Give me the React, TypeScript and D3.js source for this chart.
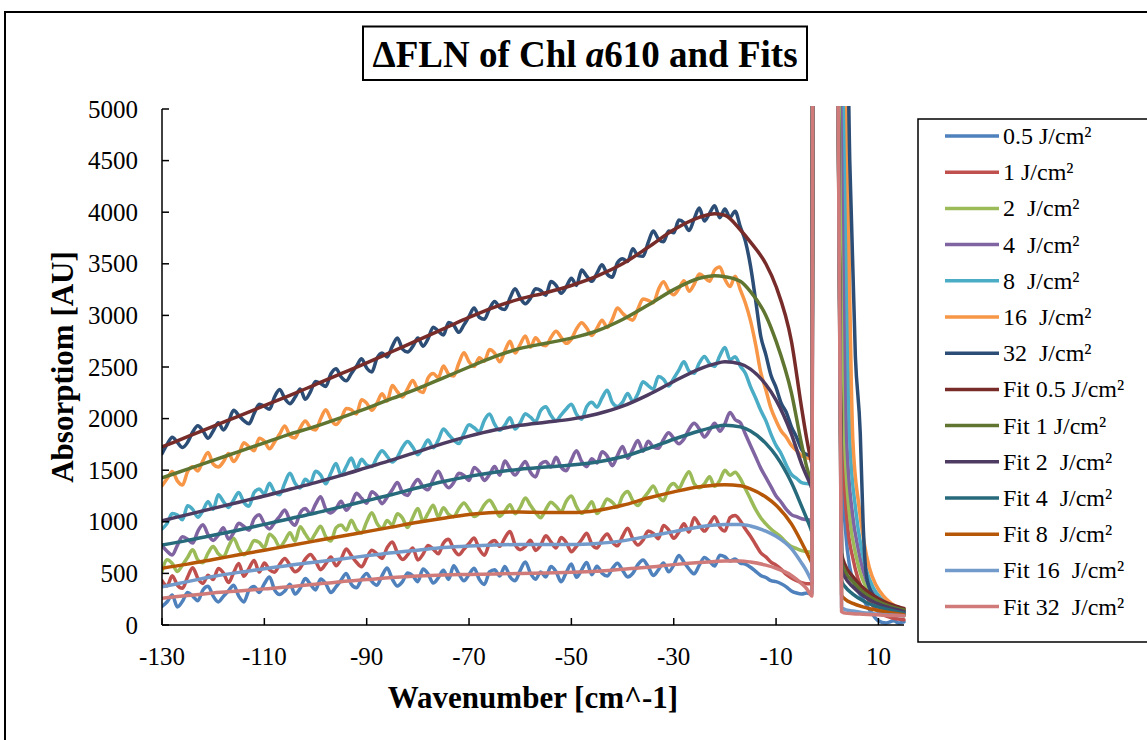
import React from 'react';
import * as d3 from 'd3';

// ---------- axis ticks ----------
const X_TICKS = [-130, -110, -90, -70, -50, -30, -10, 10];
const Y_TICKS = [0, 500, 1000, 1500, 2000, 2500, 3000, 3500, 4000, 4500, 5000];

// ---------- measured spectra: body sampled every 1 cm^-1 from -130 to -4 ----------
const BODY_START = -130;

const DATA_05 = [
  180,225,290,175,230,315,280,235,340,375,
  280,224,278,332,386,280,224,338,372,316,
  400,465,340,295,330,395,300,355,450,395,
  340,445,400,315,370,435,500,395,360,445,
  500,423,386,479,552,445,378,421,504,477,
  420,542,494,406,458,530,442,574,496,428,
  490,551,442,393,514,535,476,567,468,429,
  530,611,502,443,514,465,566,517,418,509,
  590,462,534,606,488,570,502,474,546,598,
  530,465,500,585,630,565,480,535,600,515,
  580,674,608,542,496,580,654,618,572,676,
  660,620,640,600,590,560,520,480,460,430,
  420,400,370,330,310,300,310,
];
const DATA_1 = [
  430,379,478,387,356,465,554,453,402,481,
  440,547,504,411,508,595,472,549,626,513,
  600,536,512,588,644,580,516,552,638,684,
  620,536,592,658,574,640,736,672,608,564,
  650,725,690,645,750,805,700,635,680,745,
  630,685,770,735,690,795,830,735,680,735,
  790,842,734,676,788,820,762,844,906,778,
  730,761,822,723,774,865,806,747,848,799,
  710,763,826,889,782,745,828,881,804,767,
  860,938,836,774,822,910,888,836,964,922,
  840,900,980,900,1040,970,910,980,1050,950,
  910,1040,1060,1010,930,860,780,700,660,610,
  580,540,490,455,430,410,400,
];
const DATA_2 = [
  520,633,596,519,582,655,728,631,604,697,
  760,690,660,760,840,740,680,730,820,800,
  750,879,838,757,816,895,814,953,882,821,
  890,958,856,814,942,970,918,1016,924,892,
  1000,1088,986,934,1012,970,1078,1036,944,1042,
  1130,1007,1084,1161,1048,1135,1072,1049,1126,1183,
  1120,1052,1084,1166,1208,1140,1052,1104,1166,1078,
  1140,1230,1160,1090,1040,1120,1190,1150,1100,1200,
  1250,1146,1082,1128,1194,1080,1136,1222,1188,1144,
  1250,1293,1206,1159,1222,1285,1348,1251,1204,1327,
  1370,1322,1414,1486,1368,1330,1368,1436,1344,1402,
  1500,1450,1480,1420,1320,1220,1120,1040,980,930,
  890,850,800,760,740,720,710,
];
const DATA_4 = [
  770,714,678,772,856,830,794,908,972,876,
  820,871,942,833,894,985,956,917,1028,1069,
  980,931,992,1053,1114,1015,966,1087,1128,1079,
  1170,1242,1124,1086,1128,1200,1112,1174,1276,1228,
  1180,1292,1254,1176,1238,1310,1382,1284,1256,1348,
  1410,1340,1310,1410,1490,1390,1330,1380,1470,1450,
  1400,1527,1484,1401,1458,1535,1452,1589,1516,1453,
  1520,1585,1480,1435,1560,1585,1530,1625,1530,1495,
  1600,1688,1586,1534,1612,1570,1678,1636,1544,1642,
  1730,1616,1702,1788,1684,1780,1726,1712,1798,1864,
  1810,1756,1802,1898,1954,1900,1822,1884,1956,1878,
  1950,2060,1990,1960,1850,1740,1630,1520,1430,1340,
  1250,1190,1120,1070,1050,1030,1020,
];
const DATA_8 = [
  930,985,1080,1065,1020,1155,1120,1045,1110,1195,
  1120,1263,1196,1139,1212,1285,1188,1151,1284,1317,
  1270,1374,1288,1262,1376,1470,1374,1328,1412,1376,
  1490,1454,1368,1472,1566,1450,1534,1618,1512,1606,
  1550,1536,1622,1688,1634,1580,1626,1722,1778,1724,
  1650,1716,1792,1718,1794,1900,1846,1792,1758,1854,
  1940,1911,1872,1983,2044,1945,1886,1937,2008,1899,
  1960,2047,2014,1971,2078,2115,2032,1979,2036,2093,
  2140,2042,1994,2116,2158,2110,2202,2274,2156,2118,
  2160,2244,2168,2242,2356,2320,2284,2408,2382,2316,
  2390,2470,2550,2460,2440,2540,2602,2534,2506,2608,
  2690,2570,2600,2510,2440,2310,2200,2080,1980,1850,
  1740,1660,1550,1460,1420,1380,1370,
];
const DATA_16 = [
  1350,1419,1488,1397,1356,1485,1534,1493,1592,1671,
  1560,1531,1582,1663,1584,1655,1766,1727,1688,1809,
  1780,1707,1774,1851,1928,1835,1812,1909,1976,1913,
  1890,1998,2086,1994,1942,2000,2098,2086,2044,2182,
  2150,2080,2150,2240,2170,2320,2260,2210,2290,2370,
  2280,2252,2394,2436,2398,2510,2432,2414,2536,2638,
  2550,2505,2590,2555,2670,2635,2550,2655,2750,2635,
  2720,2801,2692,2783,2724,2705,2786,2847,2788,2729,
  2770,2869,2928,2877,2806,2875,2954,2883,2962,3071,
  3020,2977,2954,3061,3158,3145,3122,3249,3326,3243,
  3200,3258,3336,3234,3302,3400,3370,3330,3440,3470,
  3350,3280,3380,3250,3120,2950,2720,2450,2280,2100,
  1980,1880,1820,1740,1690,1640,1620,
];
const DATA_32 = [
  1660,1750,1820,1770,1720,1770,1870,1930,1880,1810,
  1880,1960,1890,1970,2080,2030,1980,1950,2050,2140,
  2120,2091,2212,2283,2194,2145,2206,2287,2188,2259,
  2360,2341,2312,2433,2484,2405,2366,2437,2508,2579,
  2490,2452,2584,2636,2598,2700,2782,2674,2646,2698,
  2780,2702,2774,2886,2848,2810,2932,2904,2836,2908,
  2990,3071,2982,2963,3064,3135,3076,3057,3168,3259,
  3170,3113,3166,3259,3242,3195,3328,3291,3214,3277,
  3360,3290,3440,3380,3330,3410,3490,3400,3370,3510,
  3550,3523,3646,3579,3572,3705,3818,3741,3714,3817,
  3800,3924,3898,3822,3936,4040,3914,3988,4062,3946,
  4030,3950,4010,3860,3720,3480,3150,2800,2620,2420,
  2300,2150,2060,1920,1820,1700,1650,
];

// laser line region and anti-Stokes tail of the measured spectra: [wavenumber, value]
const TAIL_05: [number, number][] = [[-3.0,300],[-2.8,6000],[2.1,6000],[2.7,1800],[3.6,900],[4.4,560],[5.5,380],[7,250],[8.5,130],[10,40],[11.5,20],[13,40],[14,20],[15,30]];
const TAIL_1: [number, number][] = [[-3.0,400],[-2.8,6000],[2.2,6000],[3.0,1800],[4.0,950],[5.0,650],[6.0,450],[7.5,290],[9,180],[10.5,110],[12,80],[13.5,60],[15,50]];
const TAIL_2: [number, number][] = [[-3.0,705],[-2.8,6000],[2.4,6000],[3.4,1800],[4.5,1000],[5.5,700],[6.5,500],[8,330],[9.5,220],[11,160],[12.5,120],[15,90]];
const TAIL_4: [number, number][] = [[-3.0,1015],[-2.8,6000],[2.6,6000],[3.8,1800],[5.0,1050],[6.0,750],[7.0,530],[8.5,340],[10,240],[11.5,180],[13,140],[15,110]];
const TAIL_8: [number, number][] = [[-3.0,1365],[-2.8,6000],[2.8,6000],[4.4,1800],[5.6,1100],[6.6,760],[7.6,540],[9,360],[10.5,260],[12,200],[13.5,160],[15,130]];
const TAIL_16: [number, number][] = [[-3.0,1610],[-2.8,6000],[3.2,6000],[5.0,1800],[6.2,1150],[7.2,800],[8.2,560],[9.5,390],[11,280],[12.5,210],[15,150]];
const TAIL_32: [number, number][] = [[-3.0,1640],[-2.8,6000],[3.8,6000],[4.4,4500],[5.5,2600],[6.45,1860],[7.0,1000],[7.6,500],[8.5,330],[10,240],[11.5,190],[13,160],[15,140]];

// ---------- fits ----------
const FIT_X = [-130,-125,-120,-115,-110,-105,-100,-95,-90,-85,-80,-75,-70,-65,-60,-55,-50,-45,-40,-35,-30,-25,-22,-20,-17,-15,-12,-10,-7,-5,-4,-3.2];
const FIT_05 = [1725,1825,1925,2025,2125,2225,2330,2435,2540,2650,2760,2870,2980,3080,3160,3220,3290,3380,3500,3660,3830,3950,3985,3970,3830,3710,3500,3280,2750,2100,1800,1600];
const FIT_1 = [1425,1510,1595,1680,1765,1850,1925,2010,2100,2195,2290,2395,2500,2600,2680,2730,2780,2850,2960,3100,3250,3360,3385,3375,3330,3230,3000,2750,2250,1750,1530,1400];
const FIT_2 = [1010,1070,1130,1190,1250,1315,1380,1450,1525,1600,1680,1760,1830,1890,1935,1965,1995,2045,2120,2230,2360,2480,2530,2550,2530,2480,2330,2180,1850,1560,1440,1350];
const FIT_4 = [775,820,870,920,975,1030,1085,1145,1205,1265,1330,1390,1440,1480,1510,1530,1550,1580,1630,1710,1800,1880,1920,1935,1920,1880,1760,1640,1380,1150,1030,930];
const FIT_8 = [550,590,635,680,725,770,815,860,905,950,995,1035,1070,1090,1095,1090,1090,1110,1160,1230,1290,1340,1355,1360,1350,1320,1240,1160,980,800,700,620];
const FIT_16 = [370,420,470,510,545,580,610,640,670,700,725,750,765,775,780,780,780,790,815,860,905,950,970,975,975,960,910,860,740,600,520,440];
const FIT_32 = [260,285,310,330,350,370,395,420,440,460,475,485,490,495,500,505,510,520,540,560,585,605,615,620,620,610,580,550,480,400,350,290];

const FIT_TAIL_05: [number, number][] = [[-3.0,1560],[-2.8,6000],[2.0,6000],[2.8,700],[3.5,580],[5,470],[7,360],[9,285],[11,230],[13,190],[15,160]];
const FIT_TAIL_1: [number, number][] = [[-3.0,1370],[-2.8,6000],[2.0,6000],[2.8,620],[3.5,520],[5,420],[7,320],[9,255],[11,205],[13,170],[15,145]];
const FIT_TAIL_2: [number, number][] = [[-3.0,1320],[-2.8,6000],[2.0,6000],[2.8,540],[3.5,460],[5,370],[7,285],[9,225],[11,185],[13,155],[15,130]];
const FIT_TAIL_4: [number, number][] = [[-3.0,900],[-2.8,6000],[2.0,6000],[2.8,430],[3.5,370],[5,300],[7,235],[9,190],[11,160],[13,135],[15,115]];
const FIT_TAIL_8: [number, number][] = [[-3.0,600],[-2.8,6000],[2.0,6000],[2.8,290],[3.5,250],[5,210],[7,175],[9,150],[11,130],[13,115],[15,100]];
const FIT_TAIL_16: [number, number][] = [[-3.0,420],[-2.8,6000],[2.0,6000],[2.8,170],[3.5,150],[5,135],[7,120],[9,110],[11,100],[13,95],[15,90]];
const FIT_TAIL_32: [number, number][] = [[-3.0,280],[-2.8,6000],[2.0,6000],[2.8,130],[3.5,115],[5,110],[7,105],[9,100],[11,95],[13,92],[15,90]];

// ---------- legend names & colours ----------
const NAMES = [
  '0.5 J/cm²', '1 J/cm²', '2  J/cm²', '4  J/cm²', '8  J/cm²', '16  J/cm²', '32  J/cm²',
  'Fit 0.5 J/cm²', 'Fit 1 J/cm²', 'Fit 2  J/cm²', 'Fit 4  J/cm²', 'Fit 8  J/cm²', 'Fit 16  J/cm²', 'Fit 32  J/cm²',
];
const COLORS = [
  '#4F81BD', '#C0504D', '#9BBB59', '#8064A2', '#4BACC6', '#F79646', '#2C4D75',
  '#772C2A', '#5F7530', '#4D3B62', '#276A7C', '#B65708', '#729ACA', '#D07B79',
];

const DATA_BODIES = [DATA_05, DATA_1, DATA_2, DATA_4, DATA_8, DATA_16, DATA_32];
const DATA_TAILS = [TAIL_05, TAIL_1, TAIL_2, TAIL_4, TAIL_8, TAIL_16, TAIL_32];
const FIT_VALUES = [FIT_05, FIT_1, FIT_2, FIT_4, FIT_8, FIT_16, FIT_32];
const FIT_TAILS = [FIT_TAIL_05, FIT_TAIL_1, FIT_TAIL_2, FIT_TAIL_4, FIT_TAIL_8, FIT_TAIL_16, FIT_TAIL_32];

const FONT = "'Liberation Serif', 'Times New Roman', Times, serif";

export default function App() {
  const left = 162, right = 904, top = 109, bottom = 625;
  const x = d3.scaleLinear().domain([-130, 15]).range([left, right]);
  const y = d3.scaleLinear().domain([0, 5000]).range([bottom, top]);
  const line = d3.line<[number, number]>()
    .x(d => x(d[0]))
    .y(d => y(d[1]))
    .curve(d3.curveMonotoneX);

  const dataSeries: [number, number][][] = DATA_BODIES.map((body, i) => [
    ...body.map((v, j) => [BODY_START + j, v] as [number, number]),
    ...DATA_TAILS[i],
  ]);
  const fitSeries: [number, number][][] = FIT_VALUES.map((vals, i) => [
    ...vals.map((v, j) => [FIT_X[j], v] as [number, number]),
    ...FIT_TAILS[i],
  ]);
  const allSeries = [...dataSeries, ...fitSeries];

  const legX = 918, legY = 119, legRow0 = 136, legStep = 36.2;

  return (
    <svg width={1147} height={740} style={{ position: 'absolute', left: 0, top: 0, background: '#fff' }}
      fontFamily={FONT}>
      <defs>
        <clipPath id="plotClip">
          <rect x={left} y={106} width={right - left + 2} height={bottom - 106 + 4} />
        </clipPath>
      </defs>
      <rect x={0} y={0} width={1147} height={740} fill="#fff" />
      {/* outer chart border */}
      <rect x={5} y={12} width={1170} height={760} fill="none" stroke="#000" strokeWidth={2} />

      {/* title */}
      <rect x={363} y={26.5} width={444} height={53.5} fill="#fff" stroke="#000" strokeWidth={2} />
      <text x={585} y={67} textAnchor="middle" fontSize={37} fontWeight="bold" fill="#000">
        {'ΔFLN of Chl '}<tspan fontStyle="italic">a</tspan>{'610 and Fits'}
      </text>

      {/* series */}
      <g clipPath="url(#plotClip)">
        {allSeries.map((s, i) => (
          <path key={i} d={line(s) || ''} fill="none" stroke={COLORS[i]} strokeWidth={3.5}
            strokeLinejoin="round" strokeLinecap="round" />
        ))}
      </g>

      {/* axes */}
      <line x1={left} x2={left} y1={top} y2={bottom} stroke="#000" strokeWidth={1.5} />
      <line x1={left} x2={right} y1={bottom} y2={bottom} stroke="#000" strokeWidth={1.5} />
      {Y_TICKS.map(t => (
        <g key={'y' + t}>
          <line x1={left} x2={left + 7} y1={y(t)} y2={y(t)} stroke="#000" strokeWidth={1.5} />
          <text x={138} y={y(t) + 8.5} textAnchor="end" fontSize={25} fill="#000">{t}</text>
        </g>
      ))}
      {X_TICKS.map(t => (
        <g key={'x' + t}>
          <line x1={x(t)} x2={x(t)} y1={bottom} y2={bottom - 7} stroke="#000" strokeWidth={1.5} />
          <text x={x(t)} y={665} textAnchor="middle" fontSize={25} fill="#000">{t}</text>
        </g>
      ))}

      {/* axis titles */}
      <text x={(left + right) / 2} y={708} textAnchor="middle" fontSize={31} fontWeight="bold" fill="#000">
        Wavenumber [cm^-1]
      </text>
      <text transform={`translate(73, ${(top + bottom) / 2}) rotate(-90)`} textAnchor="middle"
        fontSize={31} fontWeight="bold" fill="#000">
        Absorptiom [AU]
      </text>

      {/* legend */}
      <rect x={legX} y={legY} width={260} height={642 - legY} fill="#fff" stroke="#000" strokeWidth={1.5} />
      {NAMES.map((n, i) => {
        const yy = legRow0 + i * legStep;
        return (
          <g key={'l' + i}>
            <line x1={945} x2={999} y1={yy} y2={yy} stroke={COLORS[i]} strokeWidth={3.5} />
            <text x={1003} y={yy + 8} fontSize={24} fill="#000" style={{ whiteSpace: 'pre' }}>{n}</text>
          </g>
        );
      })}
    </svg>
  );
}
